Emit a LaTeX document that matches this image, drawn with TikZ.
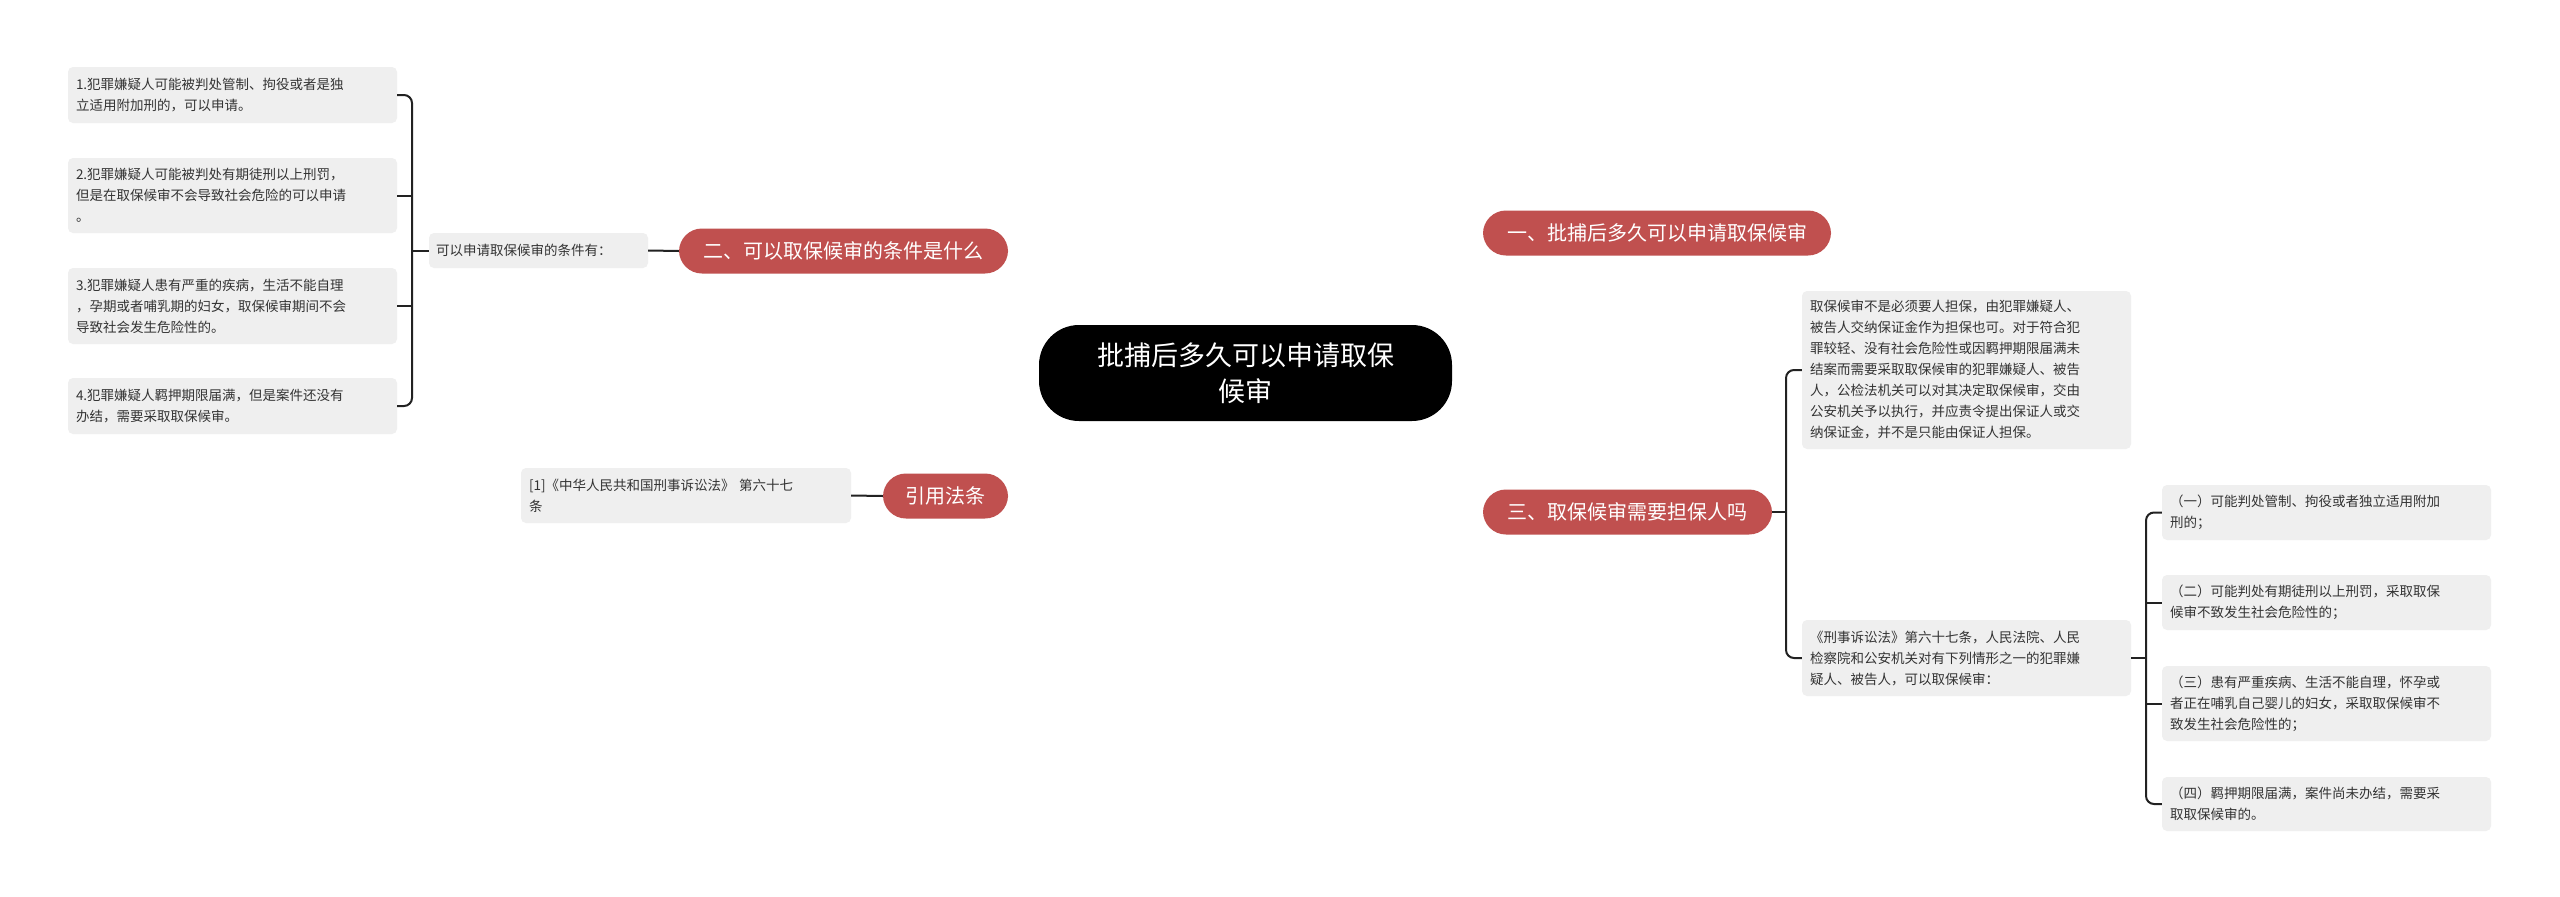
\documentclass[tikz,border=0pt]{standalone}
\usepackage{fontspec}
\setmainfont{Noto Sans CJK SC}
\usetikzlibrary{backgrounds}
\definecolor{redn}{HTML}{C0504F}
\definecolor{boxg}{HTML}{EFEFEF}
\definecolor{txt}{HTML}{333333}
\definecolor{ln}{HTML}{222222}
\begin{document}
\begin{tikzpicture}[x=1pt,y=-1pt,
  leaf/.style={fill=boxg,rounded corners=5pt,inner sep=0pt,align=left,text=txt,
    font=\fontsize{13.5}{21}\selectfont},
  rednode/.style={fill=redn,rounded corners=23pt,inner sep=0pt,text=white,
    font=\fontsize{20}{24}\selectfont,minimum height=45pt},
  conn/.style={draw=ln,line width=2pt},
  brk/.style={draw=ln,line width=2pt,rounded corners=8pt}]
\useasboundingbox (0,0) rectangle (2560,897);
\fill[white] (0,0) rectangle (2560,897);
% center
\node[fill=black,rounded corners=40pt,minimum width=413pt,minimum height=96pt,inner sep=0pt,
  text=white,align=center,font=\fontsize{27}{36}\selectfont] (ctr) at (1245.5,373) {批捕后多久可以申请取保\\候审};
% red nodes
\node[rednode,minimum width=329pt] (n2) at (843.5,251) {二、可以取保候审的条件是什么};
\node[rednode,minimum width=125pt] (ny) at (945.5,496) {引用法条};
\node[rednode,minimum width=348pt] (n1) at (1657,233) {一、批捕后多久可以申请取保候审};
\node[rednode,minimum width=289pt] (n3) at (1627.5,512) {三、取保候审需要担保人吗};
% left leaves
\node[leaf,minimum width=219pt,minimum height=35pt,text width=205pt] (cond) at (538.5,250.5) {可以申请取保候审的条件有：};
\node[leaf,minimum width=329pt,minimum height=56pt,text width=313pt] (b1) at (232.5,95) {1.犯罪嫌疑人可能被判处管制、拘役或者是独\\立适用附加刑的，可以申请。};
\node[leaf,minimum width=329pt,minimum height=75pt,text width=313pt] (b2) at (232.5,195.5) {2.犯罪嫌疑人可能被判处有期徒刑以上刑罚，\\但是在取保候审不会导致社会危险的可以申请\\。};
\node[leaf,minimum width=329pt,minimum height=76pt,text width=313pt] (b3) at (232.5,306) {3.犯罪嫌疑人患有严重的疾病，生活不能自理\\，孕期或者哺乳期的妇女，取保候审期间不会\\导致社会发生危险性的。};
\node[leaf,minimum width=329pt,minimum height=56pt,text width=313pt] (b4) at (232.5,406) {4.犯罪嫌疑人羁押期限届满，但是案件还没有\\办结，需要采取取保候审。};
\node[leaf,minimum width=330pt,minimum height=55pt,text width=314pt] (ref) at (686,495.5) {[1]《中华人民共和国刑事诉讼法》 第六十七\\条};
% right leaves
\node[leaf,minimum width=329pt,minimum height=158pt,text width=313pt] (t1) at (1966.5,370) {取保候审不是必须要人担保，由犯罪嫌疑人、\\被告人交纳保证金作为担保也可。对于符合犯\\罪较轻、没有社会危险性或因羁押期限届满未\\结案而需要采取取保候审的犯罪嫌疑人、被告\\人，公检法机关可以对其决定取保候审，交由\\公安机关予以执行，并应责令提出保证人或交\\纳保证金，并不是只能由保证人担保。};
\node[leaf,minimum width=329pt,minimum height=76pt,text width=313pt] (t2) at (1966.5,658) {《刑事诉讼法》第六十七条，人民法院、人民\\检察院和公安机关对有下列情形之一的犯罪嫌\\疑人、被告人，可以取保候审：};
\node[leaf,minimum width=329pt,minimum height=55pt,text width=313pt] (s1) at (2326.5,512.5) {（一）可能判处管制、拘役或者独立适用附加\\刑的；};
\node[leaf,minimum width=329pt,minimum height=55pt,text width=313pt] (s2) at (2326.5,602.5) {（二）可能判处有期徒刑以上刑罚，采取取保\\候审不致发生社会危险性的；};
\node[leaf,minimum width=329pt,minimum height=75pt,text width=313pt] (s3) at (2326.5,703.5) {（三）患有严重疾病、生活不能自理，怀孕或\\者正在哺乳自己婴儿的妇女，采取取保候审不\\致发生社会危险性的；};
\node[leaf,minimum width=329pt,minimum height=54pt,text width=313pt] (s4) at (2326.5,804) {（四）羁押期限届满，案件尚未办结，需要采\\取取保候审的。};
\coordinate (bl) at (412,250.5);
\coordinate (br1) at (1786,512);
\coordinate (br2) at (2146,658);
\begin{scope}[on background layer]
\draw[conn] (ctr.center) .. controls (1100,373) and (1060,251) .. (n2.east);
\draw[conn] (ctr.center) .. controls (1100,373) and (1060,496) .. (ny.east);
\draw[conn] (ctr.center) .. controls (1390,373) and (1430,233) .. (n1.west);
\draw[conn] (ctr.center) .. controls (1390,373) and (1430,512) .. (n3.west);
\end{scope}
\draw[conn] (n2.west) -- (cond.east);
\draw[conn] (ny.west) -- (ref.east);
\draw[conn] (cond.west) -- (bl);
\draw[brk] (b1.east) -| (bl) |- (b4.east);
\draw[conn] (b2.east) -- (b2.east -| bl);
\draw[conn] (b3.east) -- (b3.east -| bl);
\draw[conn] (n3.east) -- (br1);
\draw[brk] (t1.west) -| (br1) |- (t2.west);
\draw[conn] (t2.east) -- (br2);
\draw[brk] (s1.west) -| (br2) |- (s4.west);
\draw[conn] (s2.west) -- (s2.west -| br2);
\draw[conn] (s3.west) -- (s3.west -| br2);
\end{tikzpicture}
\end{document}
